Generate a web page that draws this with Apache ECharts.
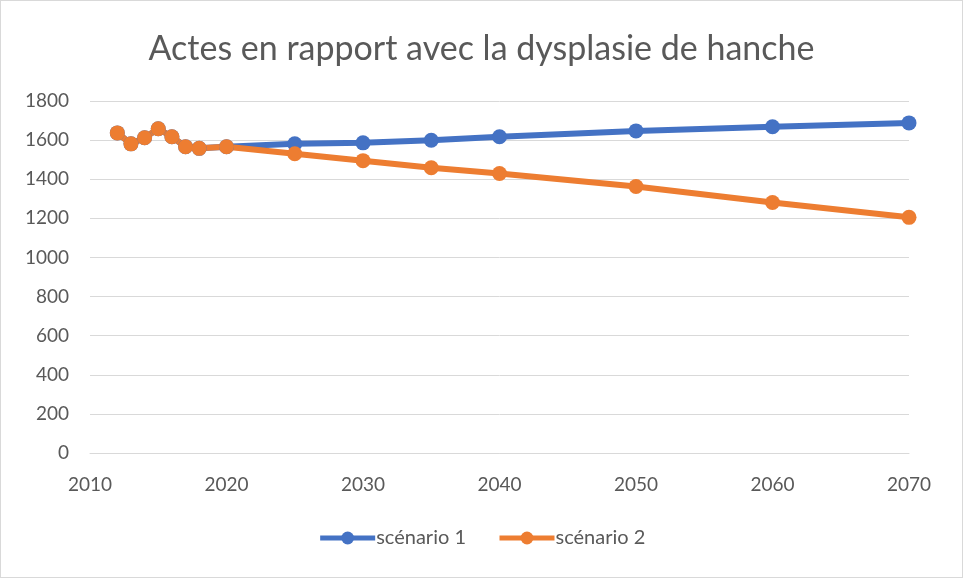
<!DOCTYPE html>
<html>
<head>
<meta charset="utf-8">
<script src="https://cdn.jsdelivr.net/npm/echarts@6/dist/echarts.min.js"></script>
<style>
html,body{margin:0;padding:0;background:#fff;}
#c{width:963px;height:578px;box-sizing:border-box;border:1px solid #d9d9d9;}
</style>
</head>
<body>
<div id="c"></div>
<script>
const years = [2012, 2013, 2014, 2015, 2016, 2017, 2018, 2020, 2025, 2030, 2035, 2040, 2050, 2060, 2070];
const scenario1 = [1637, 1581, 1612, 1658, 1617, 1566, 1558, 1566, 1581, 1586, 1599, 1617, 1647, 1668, 1688];
const scenario2 = [1637, 1581, 1612, 1658, 1617, 1566, 1558, 1566, 1530, 1495, 1459, 1429, 1363, 1281, 1205];
const seriesNames = ['scénario 1', 'scénario 2'];
const titleText = 'Actes en rapport avec la dysplasie de hanche';

const font = 'Lato, "Open Sans", sans-serif';
const chart = echarts.init(document.getElementById('c'));
const mk = (name, vals, color) => ({
  name: name,
  type: 'line',
  data: years.map((y, i) => [y, vals[i]]),
  symbol: 'circle',
  symbolSize: 15,
  lineStyle: { width: 6, color: color },
  itemStyle: { color: color },
  animation: false
});
chart.setOption({
  animation: false,
  title: {
    text: titleText,
    left: 'center',
    top: 26,
    textStyle: { fontFamily: font, fontSize: 34, fontWeight: 'normal', color: '#595959' }
  },
  legend: {
    bottom: 24,
    left: 'center',
    itemWidth: 55,
    itemHeight: 16,
    itemGap: 31,
    lineStyle: { width: 5 },
    textStyle: { fontFamily: font, fontSize: 20, color: '#595959', padding: [0, 0, 0, -4] },
    data: seriesNames
  },
  grid: { left: 89, right: 53, top: 100, bottom: 124, containLabel: false },
  xAxis: {
    type: 'value',
    min: 2010,
    max: 2070,
    interval: 10,
    axisLine: { show: true, lineStyle: { color: '#d9d9d9', width: 1 } },
    axisTick: { show: false },
    splitLine: { show: false },
    axisLabel: { fontFamily: font, fontSize: 19, color: '#595959', margin: 22, formatter: v => String(v) }
  },
  yAxis: {
    type: 'value',
    min: 0,
    max: 1800,
    interval: 200,
    axisLine: { show: false },
    axisTick: { show: false },
    splitLine: { lineStyle: { color: '#d9d9d9', width: 1 } },
    axisLabel: { fontFamily: font, fontSize: 19, color: '#595959', margin: 21, formatter: v => String(v) }
  },
  series: [
    mk(seriesNames[0], scenario1, '#4472C4'),
    mk(seriesNames[1], scenario2, '#ED7D31')
  ]
});
</script>
</body>
</html>
